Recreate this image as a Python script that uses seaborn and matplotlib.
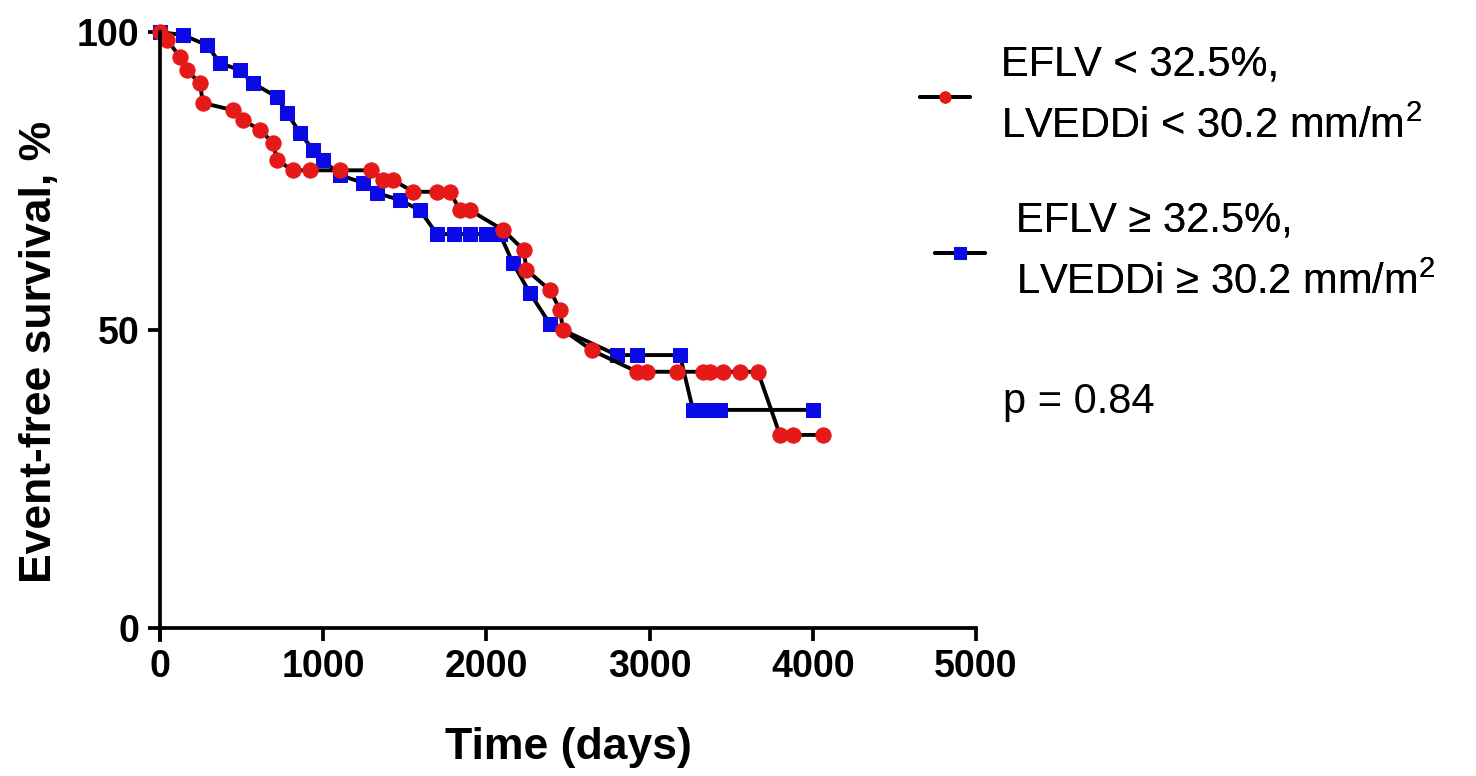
"""
Kaplan-Meier style event-free survival plot (two EFLV/LVEDDi groups).
"""

import matplotlib
matplotlib.use("Agg")
import matplotlib.pyplot as plt
import seaborn as sns


# --- Group 1: EFLV < 32.5%, LVEDDi < 30.2 mm/m2 (red circles) ---
RED_DAYS = [0, 43, 123, 165, 245, 263, 447, 509, 613, 692, 717, 815, 919,
            1103, 1290, 1366, 1428, 1550, 1697, 1777, 1838, 1900, 2102, 2230,
            2245, 2390, 2451, 2470, 2647, 2923, 2984, 3168, 3327, 3370, 3450,
            3554, 3664, 3799, 3879, 4062]
RED_SURV = [100, 98.7, 95.8, 93.6, 91.4, 88.1, 86.9, 85.2, 83.6, 81.4, 78.5,
            76.8, 76.8, 76.8, 76.8, 75.2, 75.2, 73.2, 73.2, 73.2, 70.1, 70.1,
            66.8, 63.4, 60.1, 56.7, 53.4, 50.0, 46.6, 43.0, 43.0, 43.0, 43.0,
            43.0, 43.0, 43.0, 43.0, 32.4, 32.4, 32.4]

# --- Group 2: EFLV >= 32.5%, LVEDDi >= 30.2 mm/m2 (blue squares) ---
BLUE_DAYS = [0, 141, 288, 368, 490, 570, 717, 778, 858, 938, 999, 1103, 1244,
             1330, 1471, 1593, 1697, 1800, 1900, 2000, 2083, 2163, 2267, 2390,
             2800, 2923, 3186, 3266, 3350, 3431, 4000]
BLUE_SURV = [100, 99.5, 97.8, 94.8, 93.6, 91.4, 89.1, 86.4, 83.1, 80.2, 78.5,
             76.0, 74.7, 73.0, 71.8, 70.1, 66.1, 66.1, 66.1, 66.1, 66.1, 61.2,
             56.2, 51.0, 45.8, 45.8, 45.8, 36.6, 36.6, 36.6, 36.6]

LABELS = ["EFLV < 32.5%,\nLVEDDi < 30.2 mm/m$^2$",
          "EFLV ≥ 32.5%,\nLVEDDi ≥ 30.2 mm/m$^2$"]
P_TEXT = "p = 0.84"

X_TICKS = [0, 1000, 2000, 3000, 4000, 5000]
Y_TICKS = [0, 50, 100]

RED = "#e61919"
BLUE = "#0a0ae6"


def main() -> None:
    sns.set_style("ticks")
    plt.rcParams["font.family"] = ["Liberation Sans", "DejaVu Sans"]
    plt.rcParams["mathtext.fontset"] = "custom"
    plt.rcParams["mathtext.rm"] = "Liberation Sans"
    plt.rcParams["mathtext.it"] = "Liberation Sans"
    plt.rcParams["text.color"] = "black"
    plt.rcParams["axes.labelcolor"] = "black"

    fig = plt.figure(figsize=(14.76, 7.76), dpi=100)
    ax = fig.add_axes([0.1084, 0.1907, 0.5528, 0.768])

    blue_line = sns.lineplot(x=BLUE_DAYS, y=BLUE_SURV, ax=ax, sort=False,
                             estimator=None, color="black", linewidth=2.8,
                             marker="s", markersize=10, markerfacecolor=BLUE,
                             markeredgecolor=BLUE, clip_on=False).lines[-1]
    red_line = sns.lineplot(x=RED_DAYS, y=RED_SURV, ax=ax, sort=False,
                            estimator=None, color="black", linewidth=2.8,
                            marker="o", markersize=11, markerfacecolor=RED,
                            markeredgecolor=RED, clip_on=False).lines[-1]

    ax.set_xlim(0, 5000)
    ax.set_ylim(0, 100)
    ax.set_xticks(X_TICKS)
    ax.set_yticks(Y_TICKS)
    for side in ["top", "right"]:
        ax.spines[side].set_visible(False)
    for side in ["left", "bottom"]:
        ax.spines[side].set_linewidth(2.7)
        ax.spines[side].set_color("black")
    ax.spines["left"].set_bounds(-2, 100)
    ax.tick_params(axis="both", direction="out", length=9, width=2.7,
                   labelsize=27, pad=6, colors="black")
    for lab in ax.get_xticklabels() + ax.get_yticklabels():
        lab.set_fontweight("bold")

    ax.set_xlabel("Time (days)", fontsize=32, fontweight="bold", labelpad=30)
    ax.set_ylabel("Event-free survival, %", fontsize=32, fontweight="bold")
    ax.yaxis.set_label_coords(-0.123, 0.463)

    # two separately placed legend entries, as in the original figure
    for line, label, x0, yc in [(red_line, LABELS[0], 920, 96),
                                (blue_line, LABELS[1], 935, 252)]:
        leg = fig.legend([line], [label], loc="center left",
                         bbox_to_anchor=(x0 / 1476, 1 - yc / 776),
                         frameon=False, fontsize=30, handlelength=1.2,
                         handletextpad=0.75, borderpad=0, borderaxespad=0)
        for txt in leg.get_texts():
            txt.set_linespacing(1.7)
        for h in leg.legend_handles:
            h.set_markersize(8)
        fig.add_artist(leg)

    fig.text(1003 / 1476, 1 - 402 / 776, P_TEXT, fontsize=30, va="center",
             ha="left")

    fig.savefig("out.png", dpi=100)
    plt.close(fig)


if __name__ == "__main__":
    main()
